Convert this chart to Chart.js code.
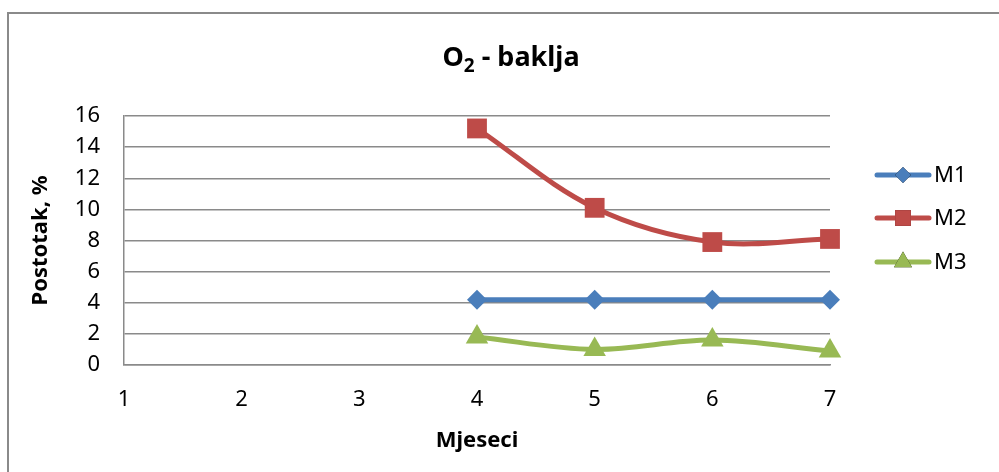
<!DOCTYPE html>
<html>
<head>
<meta charset="utf-8">
<script src="https://cdn.jsdelivr.net/npm/chart.js@4.4.1/dist/chart.umd.min.js"></script>
<style>
  html, body { margin: 0; padding: 0; background: #fff; }
  #wrap { width: 999px; height: 472px; position: relative; }
</style>
</head>
<body>
<div id="wrap"><canvas id="c" width="999" height="472"></canvas></div>
<script>
const categories = ['1', '2', '3', '4', '5', '6', '7'];
const m1 = [null, null, null, 4.2, 4.2, 4.2, 4.2];
const m2 = [null, null, null, 15.2, 10.1, 7.9, 8.1];
const m3 = [null, null, null, 1.8, 1.0, 1.6, 0.9];
const seriesNames = ['M1', 'M2', 'M3'];
const yTicks = [0, 2, 4, 6, 8, 10, 12, 14, 16];
const titleMain = 'O';
const titleSub = '2';
const titleRest = ' - baklja';
const xTitle = 'Mjeseci';
const yTitle = 'Postotak, %';

const FONT = "'Noto Sans', 'Open Sans', sans-serif";
const colors = ['#4a7ebb', '#be4b48', '#98b954'];
const styles = ['rectRot', 'rect', 'triangle'];
const radii = [10, 14, 13];

const framePlugin = {
  id: 'frame',
  beforeDraw(chart) {
    const ctx = chart.ctx;
    ctx.save();
    ctx.fillStyle = '#fff';
    ctx.fillRect(0, 0, chart.width, chart.height);
    ctx.strokeStyle = '#8a8a8a';
    ctx.lineWidth = 2;
    ctx.beginPath();
    ctx.moveTo(8, 480);
    ctx.lineTo(8, 13);
    ctx.lineTo(1010, 13);
    ctx.stroke();
    ctx.restore();
  },
  afterDraw(chart) {
    const ctx = chart.ctx;
    ctx.save();
    // title with subscript
    ctx.fillStyle = '#000';
    ctx.textBaseline = 'alphabetic';
    const big = 'bold 27px ' + FONT;
    const small = 'bold 19px ' + FONT;
    ctx.font = big;
    const w1 = ctx.measureText(titleMain).width;
    const w3 = ctx.measureText(titleRest).width;
    ctx.font = small;
    const w2 = ctx.measureText(titleSub).width;
    const total = w1 + w2 + w3;
    let x = 511 - total / 2;
    const base = 66;
    ctx.font = big;
    ctx.textAlign = 'left';
    ctx.fillText(titleMain, x, base);
    x += w1;
    ctx.font = small;
    ctx.fillText(titleSub, x, base + 6);
    x += w2;
    ctx.font = big;
    ctx.fillText(titleRest, x, base);

    // legend
    const ys = [175, 218, 262];
    chart.data.datasets.forEach((ds, i) => {
      const y = ys[i];
      ctx.strokeStyle = ds.borderColor;
      ctx.lineWidth = 5;
      ctx.lineCap = 'round';
      ctx.beginPath();
      ctx.moveTo(877, y);
      ctx.lineTo(929, y);
      ctx.stroke();
      Chart.helpers.drawPoint(ctx, {
        pointStyle: ds.pointStyle,
        radius: ds.pointRadius * 0.8,
        rotation: 0,
        borderWidth: 0
      }, 903, y);
      ctx.fillStyle = ds.backgroundColor;
      ctx.fill();
      ctx.fillStyle = '#000';
      ctx.font = '22px ' + FONT;
      ctx.textAlign = 'left';
      ctx.textBaseline = 'middle';
      ctx.fillText(seriesNames[i], 934, y + 1);
    });
    ctx.restore();
  }
};

new Chart(document.getElementById('c'), {
  type: 'line',
  data: {
    labels: categories,
    datasets: [m1, m2, m3].map((d, i) => ({
      label: seriesNames[i],
      data: d,
      borderColor: colors[i],
      backgroundColor: colors[i],
      pointBackgroundColor: colors[i],
      pointBorderWidth: 0,
      borderWidth: 5,
      pointStyle: styles[i],
      pointRadius: radii[i],
      pointHoverRadius: radii[i],
      tension: 0.35,
      spanGaps: false,
      clip: false
    }))
  },
  plugins: [framePlugin],
  options: {
    responsive: false,
    animation: false,
    events: [],
    layout: { padding: { top: 116, left: 24, right: 169, bottom: 14 } },
    plugins: {
      legend: { display: false },
      title: { display: false },
      tooltip: { enabled: false }
    },
    scales: {
      x: {
        type: 'category',
        offset: false,
        grid: { display: false, drawTicks: false },
        border: { display: true, color: '#8a8a8a', width: 1.5 },
        ticks: { color: '#000', font: { family: FONT, size: 22 }, padding: 22, maxRotation: 0 },
        title: { display: true, text: xTitle, color: '#000', font: { family: FONT, size: 22, weight: 'bold' }, padding: { top: 10 } },
        afterFit(s) { s.height = 93; }
      },
      y: {
        min: 0, max: 16,
        afterBuildTicks(s) { s.ticks = yTicks.map(v => ({ value: v })); },
        grid: { color: '#8a8a8a', lineWidth: 1.5, drawTicks: false },
        border: { display: true, color: '#8a8a8a', width: 1.5 },
        ticks: { color: '#000', font: { family: FONT, size: 22 }, padding: 24 },
        title: { display: true, text: yTitle, color: '#000', font: { family: FONT, size: 22, weight: 'bold' }, padding: { bottom: 12 } },
        afterFit(s) { s.width = 100; }
      }
    }
  }
});
</script>
</body>
</html>
